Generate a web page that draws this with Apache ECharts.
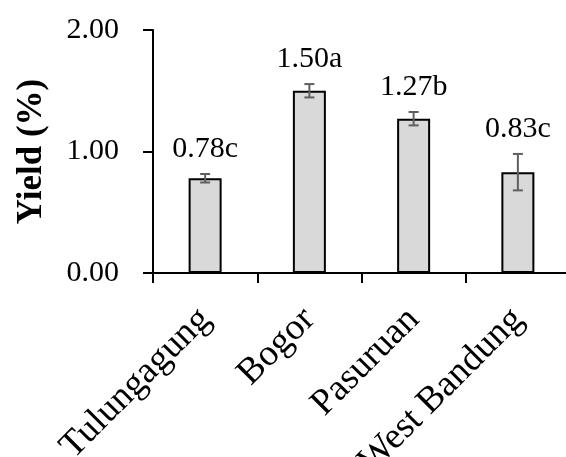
<!DOCTYPE html>
<html><head><meta charset="utf-8">
<script src="https://cdn.jsdelivr.net/npm/echarts@6/dist/echarts.min.js"></script>
<style>html,body{margin:0;padding:0;background:#fff}#c{width:566px;height:457px}</style>
</head><body><div id="c"></div>
<script>
const categories = ['Tulungagung', 'Bogor', 'Pasuruan', 'West Bandung'];
const yieldMeans = [0.78, 1.50, 1.27, 0.83];
const yieldSD = [0.035, 0.055, 0.055, 0.15];
const groupLetters = ['c', 'a', 'b', 'c'];
const yMin = 0, yMax = 2, yStep = 1;

const FONT = 'Liberation Serif';
const chart = echarts.init(document.getElementById('c'), null, {renderer: 'canvas'});

const errData = yieldMeans.map((m, i) => [i, m, yieldSD[i], groupLetters[i]]);

chart.setOption({
  backgroundColor: '#ffffff',
  animation: false,
  grid: {left: 153, top: 30, width: 417, height: 243, containLabel: false, outerBoundsMode: 'none'},
  xAxis: {
    type: 'category',
    data: categories,
    boundaryGap: true,
    axisLine: {lineStyle: {color: '#000', width: 2}},
    axisTick: {show: true, length: 10, inside: false, alignWithLabel: false, lineStyle: {color: '#000', width: 2}},
    axisLabel: {rotate: 45, margin: 41, interval: 0, color: '#000', fontFamily: FONT, fontSize: 37}
  },
  yAxis: {
    type: 'value',
    min: yMin, max: yMax, interval: yStep,
    name: 'Yield (%)',
    nameLocation: 'middle',
    nameGap: 104,
    nameTextStyle: {fontFamily: FONT, fontSize: 35, fontWeight: 'bold', color: '#000'},
    axisLine: {show: true, lineStyle: {color: '#000', width: 2}},
    axisTick: {show: true, length: 10, inside: false, lineStyle: {color: '#000', width: 2}},
    splitLine: {show: false},
    axisLabel: {margin: 34, color: '#000', fontFamily: FONT, fontSize: 30, formatter: v => v.toFixed(2)}
  },
  series: [
    {
      type: 'bar',
      data: yieldMeans,
      barWidth: 33,
      itemStyle: {color: '#d9d9d9', borderColor: '#000', borderWidth: 2},
      z: 2
    },
    {
      type: 'custom',
      data: errData,
      z: 3,
      renderItem: function (params, api) {
        const i = api.value(0), m = api.value(1), sd = api.value(2);
        const top = api.coord([i, m + sd]);
        const bot = api.coord([i, m - sd]);
        const half = 5;
        const st = {stroke: '#5f5f5f', lineWidth: 2};
        return {
          type: 'group',
          children: [
            {type: 'line', shape: {x1: top[0], y1: top[1], x2: bot[0], y2: bot[1]}, style: st},
            {type: 'line', shape: {x1: top[0] - half, y1: top[1], x2: top[0] + half, y2: top[1]}, style: st},
            {type: 'line', shape: {x1: bot[0] - half, y1: bot[1], x2: bot[0] + half, y2: bot[1]}, style: st},
            {type: 'text', x: top[0], y: top[1] - 10, style: {
              text: m.toFixed(2) + groupLetters[i], fill: '#000', font: '30px "' + FONT + '"',
              textAlign: 'center', textVerticalAlign: 'bottom'}}
          ]
        };
      }
    }
  ]
});
</script></body></html>
